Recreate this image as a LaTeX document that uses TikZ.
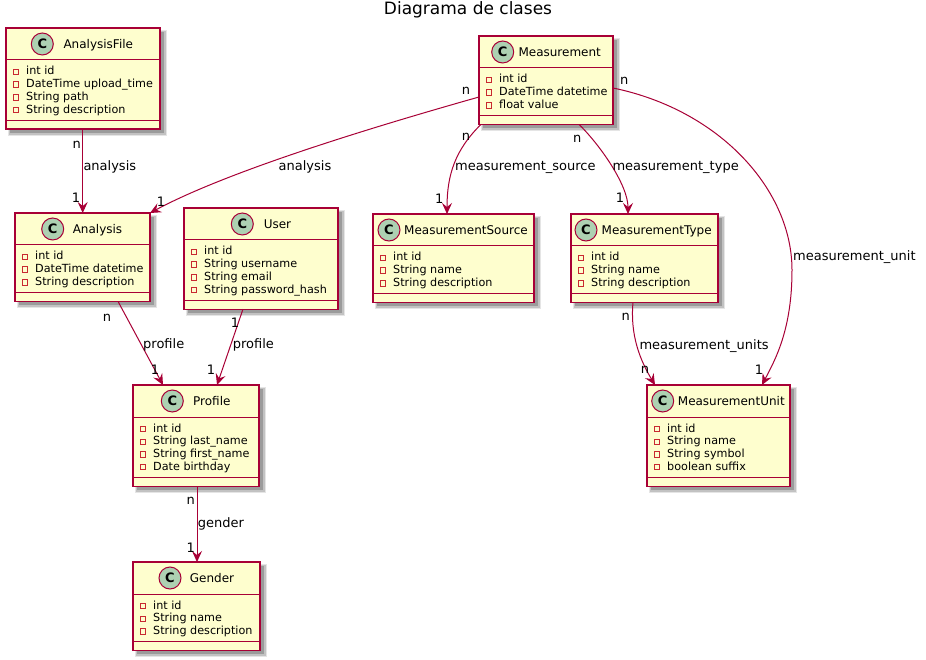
\documentclass[tikz,border=0pt]{standalone}
\usepackage{fontspec}
\setmainfont{DejaVu Sans}
\usetikzlibrary{arrows.meta,calc}
\definecolor{clsfill}{HTML}{FEFECE}
\definecolor{clsline}{HTML}{A80036}
\definecolor{circfill}{HTML}{ADD1B2}
\definecolor{privc}{HTML}{C82930}
\tikzset{
  classbox/.style={draw=clsline, fill=clsfill, line width=1.2pt, inner sep=0pt, outer sep=0pt},
  sepline/.style={draw=clsline, line width=1pt},
  circ/.style={circle, draw=clsline, fill=circfill, line width=1pt, minimum size=22pt, inner sep=0pt, font=\bfseries\fontsize{13}{13}\selectfont},
  clstitle/.style={inner sep=0pt, font=\fontsize{12}{14}\selectfont},
  attr/.style={inner sep=0pt, font=\fontsize{11.2}{13}\selectfont},
  priv/.style={draw=privc, line width=0.9pt, minimum size=5.5pt, inner sep=0pt},
  assoc/.style={draw=clsline, line width=1pt, -{Stealth[length=11pt,width=10pt,inset=4pt]}},
  lab/.style={inner sep=0pt, font=\fontsize{13}{15}\selectfont},
  shadowc/.style={fill=black}
}
\newcommand{\umlclass}[9]{%
  \pgfmathsetmacro{\cA}{#5+32}%
  \pgfmathsetmacro{\cB}{#5+54+12.7*(#8-1)}%
  \pgfmathsetmacro{\cC}{\cB+9}%
  \pgfmathsetmacro{\cH}{\cC-#5}%
  \pgfmathsetmacro{\cW}{#4-#3}%
  \fill[shadowc, opacity=0.10] (#3+2,#5+2) rectangle (#4+7,\cC+7);
  \fill[shadowc, opacity=0.15] (#3+3,#5+3) rectangle (#4+5.5,\cC+5.5);
  \fill[shadowc, opacity=0.2] (#3+4,#5+4) rectangle (#4+4,\cC+4);
  \node[classbox, minimum width=\cW pt, minimum height=\cH pt, anchor=north west] (#1) at (#3,#5) {};
  \draw[sepline] ($(#1.north west)+(0,32)$) -- ($(#1.north east)+(0,32)$);
  \draw[sepline] ($(#1.north west)+(0,\cB-#5)$) -- ($(#1.north east)+(0,\cB-#5)$);
  \node[circ] (#1-c) at (#6,#5+16) {C};
  \node[clstitle, anchor=base] (#1-t) at (#7,#5+20.4) {#2};
  \foreach \a [count=\i] in {#9} {
    \pgfmathsetmacro{\yy}{\cA+11+12.7*(\i-1)}
    \node[priv] (#1-p\i) at (#3+10,\yy+1) {};
    \node[attr, anchor=base west] (#1-a\i) at (#3+20,\yy+4) {\a};
  }
}
\begin{document}
\begin{tikzpicture}[x=1pt,y=-1pt]
\useasboundingbox[fill=white] (0,0) rectangle (926,660);
\node[inner sep=0pt, font=\fontsize{17}{19}\selectfont] (title) at (468,10) {Diagrama de clases};

\umlclass{AnalysisFile}{AnalysisFile}{6}{160}{28}{42.3}{98.3}{4}{int id, DateTime upload\_time, String path, String description}
\umlclass{Measurement}{Measurement}{479}{613}{36}{502.7}{559.7}{3}{int id, DateTime datetime, float value}
\umlclass{Analysis}{Analysis}{15}{150}{213}{52.7}{97.5}{3}{int id, DateTime datetime, String description}
\umlclass{User}{User}{184}{338}{208}{242.3}{277.5}{4}{int id, String username, String email, String password\_hash}
\umlclass{MeasurementSource}{MeasurementSource}{373}{534}{214}{389}{466}{3}{int id, String name, String description}
\umlclass{MeasurementType}{MeasurementType}{571}{718}{214}{586}{656.7}{3}{int id, String name, String description}
\umlclass{Profile}{Profile}{133}{259}{385}{172.3}{211.8}{4}{int id, String last\_name, String first\_name, Date birthday}
\umlclass{MeasurementUnit}{MeasurementUnit}{647}{790}{385}{662.7}{731.3}{4}{int id, String name, String symbol, boolean suffix}
\umlclass{Gender}{Gender}{133}{260}{562}{170}{212}{3}{int id, String name, String description}

% AnalysisFile -> Analysis
\draw[assoc] ($(AnalysisFile.south west)+(76.7,0)$) -- ($(Analysis.north west)+(67.7,0)$);
\node[lab] (l1a) at (76.7,145) {n};
\node[lab, anchor=west] (l1b) at (83.3,167) {analysis};
\node[lab] (l1c) at (76,197.3) {1};

% Measurement -> Analysis
\draw[assoc] ($(Measurement.north west)+(0,61)$) .. controls (380,125) and (230,170) .. (Analysis.north east);
\node[lab] (l2a) at (466,90.7) {n};
\node[lab] (l2b) at (305,167.3) {analysis};
\node[lab] (l2c) at (161,201.7) {1};

% Measurement -> MeasurementSource
\draw[assoc] ($(Measurement.south west)+(2,0)$) .. controls (455,150) and (447,175) .. ($(MeasurementSource.north west)+(74,0)$);
\node[lab] (l3a) at (466,136.7) {n};
\node[lab, anchor=west] (l3b) at (455,167) {measurement\_source};
\node[lab] (l3c) at (439.3,198.3) {1};

% Measurement -> MeasurementType
\draw[assoc] ($(Measurement.south west)+(100,0)$) .. controls (600,145) and (628,185) .. ($(MeasurementType.north west)+(57,0)$);
\node[lab] (l4a) at (577.3,139) {n};
\node[lab, anchor=west] (l4b) at (612.3,167.3) {measurement\_type};
\node[lab] (l4c) at (620,197.3) {1};

% Measurement -> MeasurementUnit
\coordinate (mu) at (792,270);
\draw[assoc] ($(Measurement.north east)+(0,52)$) .. controls (720,110) and (792,190) .. (mu) .. controls (792,330) and (775,360) .. ($(MeasurementUnit.north west)+(115,0)$);
\node[lab] (l5a) at (624.3,80.7) {n};
\node[lab, anchor=west] (l5b) at (793,257.3) {measurement\_unit};
\node[lab] (l5c) at (759,370) {1};

% Analysis -> Profile
\draw[assoc] ($(Analysis.south west)+(103,0)$) -- ($(Profile.north west)+(30,0)$);
\node[lab] (l6a) at (107,318) {n};
\node[lab, anchor=west] (l6b) at (143,345) {profile};
\node[lab] (l6c) at (155,370) {1};

% User -> Profile
\draw[assoc] ($(User.south west)+(59,0)$) -- ($(Profile.north west)+(84,0)$);
\node[lab] (l7a) at (235,322.3) {1};
\node[lab, anchor=west] (l7b) at (232.7,345) {profile};
\node[lab] (l7c) at (211,369.3) {1};

% MeasurementType -> MeasurementUnit
\draw[assoc] ($(MeasurementType.south west)+(62,0)$) .. controls (630,335) and (640,360) .. ($(MeasurementUnit.north west)+(8,0)$);
\node[lab] (l8a) at (625.7,316.7) {n};
\node[lab, anchor=west] (l8b) at (639.3,345.7) {measurement\_units};
\node[lab] (l8c) at (645,370) {n};

% Profile -> Gender
\draw[assoc] ($(Profile.south west)+(64,0)$) -- ($(Gender.north west)+(64,0)$);
\node[lab] (l9a) at (190.7,500.7) {n};
\node[lab, anchor=west] (l9b) at (197.7,524) {gender};
\node[lab] (l9c) at (190.7,547.7) {1};
\end{tikzpicture}
\end{document}
